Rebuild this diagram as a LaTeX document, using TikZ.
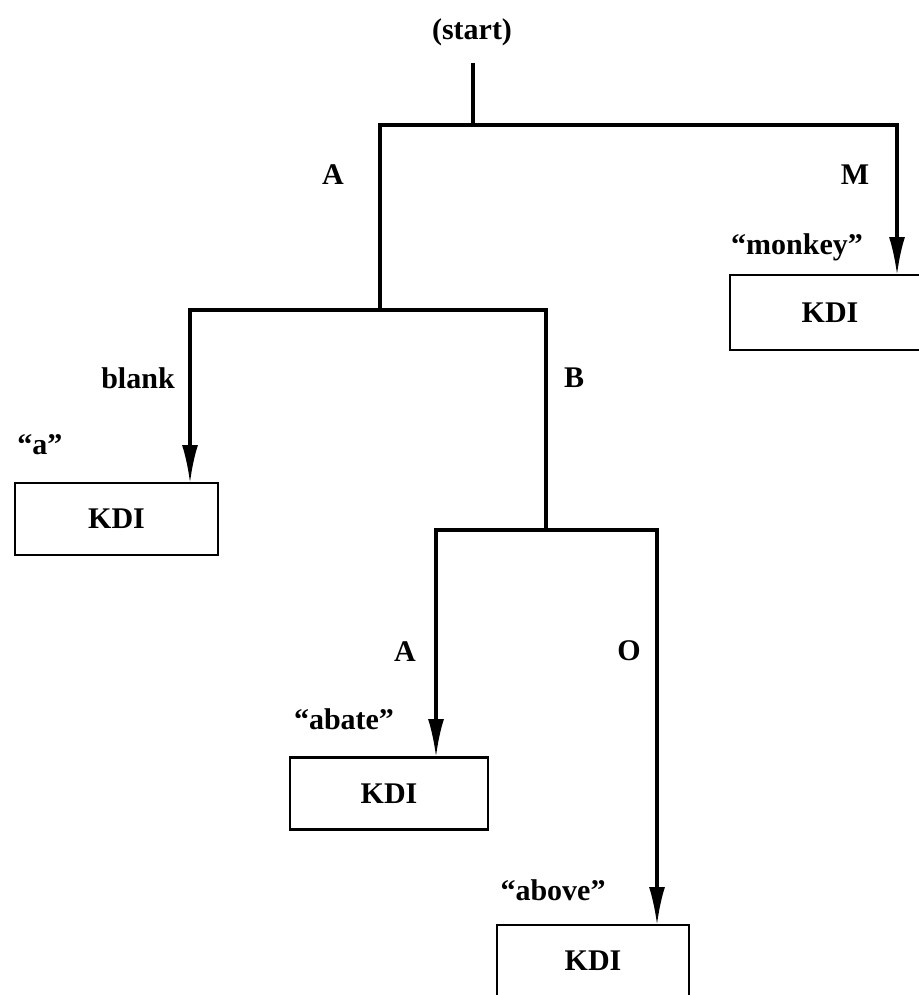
\documentclass[tikz,border=0pt]{standalone}
\usepackage{fontspec}
\setmainfont{Liberation Serif}
\usetikzlibrary{arrows.meta}

\begin{document}
\begin{tikzpicture}[x=0.5pt,y=-0.5pt,font=\fontsize{15}{18}\selectfont\bfseries,
  wire/.style={line width=1.6pt},
  arr/.style={wire,-{Latex[length=19pt,width=8pt]}},
  kdi/.style={draw,line width=1.4pt,minimum height=36pt,inner sep=0pt},
  lbl/.style={inner sep=0pt}]
  \useasboundingbox (0,0) rectangle (919,995);

  % tree junctions
  \node[lbl] (start) at (472,32) {(start)};
  \coordinate (stem) at (473,63);
  \coordinate (root) at (473,125);
  \coordinate (forkA) at (380,310);
  \coordinate (forkB) at (546,530);

  % the KDI boxes
  \node[kdi,minimum width=101.5pt] (kdiA) at (116.5,519) {KDI};
  \node[kdi,minimum width=99pt] (kdiAbate) at (389,793.5) {KDI};
  \node[kdi,minimum width=96pt] (kdiAbove) at (593,961) {KDI};
  \node[kdi,minimum width=100pt,minimum height=37.5pt] (kdiM) at (830,312.5) {KDI};

  % where the arrows meet the boxes
  \coordinate (inA) at (190,483);
  \coordinate (inAbate) at (436,757);
  \coordinate (inAbove) at (657,925);
  \coordinate (inM) at (897,275);

  \draw[wire] (stem) -- (root);
  \draw[wire] (forkA) |- (root);
  \draw[arr] (root) -| (inM);
  \draw[arr] (forkA) -| (inA);
  \draw[wire] (forkA) -| (forkB);
  \draw[arr] (forkB) -| (inAbate);
  \draw[arr] (forkB) -| (inAbove);

  % branch letters and words
  \node[lbl] (lA) at (333,175) {A};
  \node[lbl] (lM) at (855,175) {M};
  \node[lbl] (wM) at (797,247) {“monkey”};
  \node[lbl] (lblank) at (138,378) {blank};
  \node[lbl] (lB) at (574,378) {B};
  \node[lbl] (wA) at (40,445) {“a”};
  \node[lbl] (lA2) at (405,652) {A};
  \node[lbl] (lO) at (629,651) {O};
  \node[lbl] (wAbate) at (344,719) {“abate”};
  \node[lbl] (wAbove) at (553,890) {“above”};
\end{tikzpicture}
\end{document}
